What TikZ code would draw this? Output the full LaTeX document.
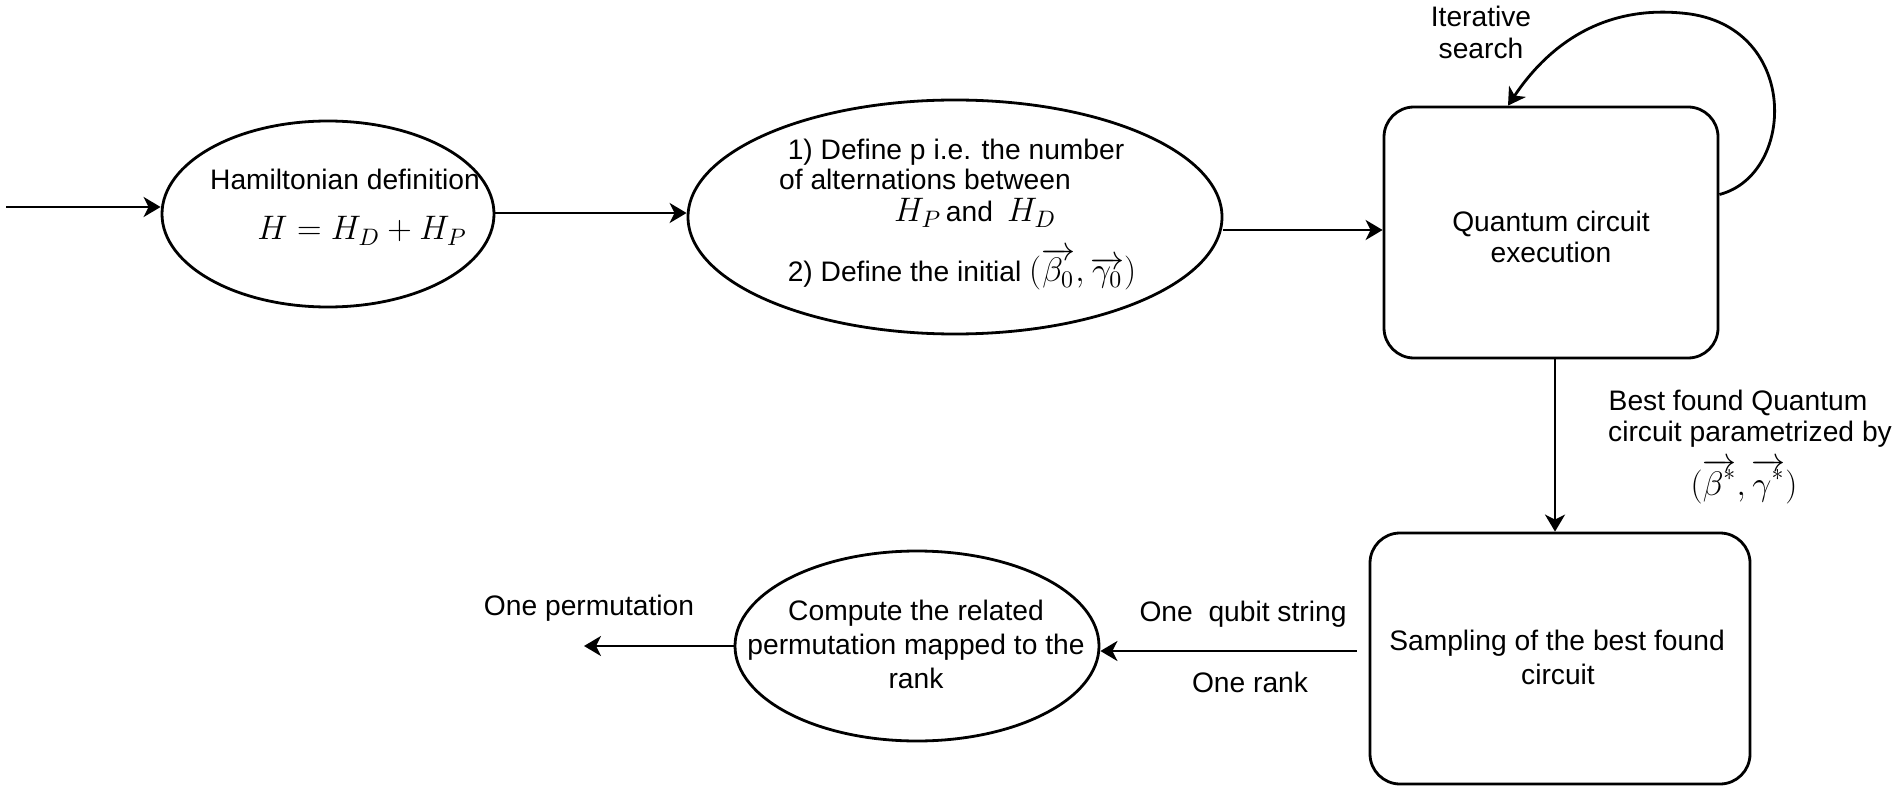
\documentclass[tikz,border=0pt]{standalone}
\usepackage{fix-cm}
\usepackage[no-math]{fontspec}
\setmainfont{Liberation Sans}
\usetikzlibrary{shapes.geometric,arrows.meta}
\newcommand\txtfont{\fontsize{14.1}{16}\selectfont}
\newcommand\mth[1]{{\fontsize{17}{20}\selectfont$#1$}}
\begin{document}
\begin{tikzpicture}[x=0.5pt,y=-0.5pt, line width=1.4pt,
  arr/.style={-{Stealth[length=8.5pt,width=10pt,inset=2.5pt]}},
  ell/.style={draw, ellipse, inner sep=0pt},
  rbox/.style={draw, rectangle, rounded corners=15pt, inner sep=0pt},
  lbl/.style={font=\txtfont, inner sep=0pt, anchor=base, align=center}]
\useasboundingbox (0,0) rectangle (1900,791);

% shapes
\node[ell, minimum width=166pt, minimum height=93pt] (e1) at (328,214) {};
\node[ell, minimum width=267pt, minimum height=117pt] (e2) at (955,217) {};
\node[rbox, minimum width=167pt, minimum height=125.5pt] (b1) at (1551,232.5) {};
\node[rbox, minimum width=190pt, minimum height=125.5pt] (b2) at (1560,658.5) {};
\node[ell, minimum width=182pt, minimum height=95pt] (e3) at (917,646) {};

% texts
\node[lbl] (t1a) at (345,190) {Hamiltonian definition};
\node[lbl] (t1b) at (362,240) {\mth{H = H_D + H_P}};

\node[lbl] (t2a) at (956,160) {1) Define p i.e. the number};
\node[lbl] (t2b) at (925,190) {of alternations between};
\node[lbl] (t2c) at (975,222) {\mth{H_P}\,and\hspace{0.5em}\mth{H_D}};
\node[lbl] (t2d) at (962,282) {2) Define the initial \mth{(\overrightarrow{\beta_0},\overrightarrow{\gamma_0})}};

\node[lbl] (t3a) at (1551,232) {Quantum circuit};
\node[lbl] (t3b) at (1551,263) {execution};

\node[lbl] (it1) at (1481,27) {Iterative};
\node[lbl] (it2) at (1481,59) {search};

\node[lbl] (bf1) at (1738,410) {Best found Quantum};
\node[lbl] (bf2) at (1750,441) {circuit parametrized by};
\node[lbl] (bf3) at (1744,495) {\mth{(\overrightarrow{\beta^*},\overrightarrow{\gamma^*})}};

\node[lbl] (s1) at (1557,650) {Sampling of the best found};
\node[lbl] (s2) at (1558,684) {circuit};

\node[lbl] (q1) at (1243,621) {One\ \ qubit string};
\node[lbl] (q2) at (1250,692) {One rank};

\node[lbl] (c1) at (916,620) {Compute the related};
\node[lbl] (c2) at (916,654) {permutation mapped to the};
\node[lbl] (c3) at (916,688) {rank};

\node[lbl] (op) at (589,615) {One permutation};

% connectors
\coordinate (in0) at (6,207);
\coordinate (out0) at (584,646);
\draw[arr] (in0) -- (in0 -| e1.west);
\draw[arr] ([yshift=0.5pt]e1.east) -- ([yshift=0.5pt]e1.east -| e2.west);
\draw[arr] ([yshift=-6.5pt]e2.east) -- ([yshift=-6.5pt]e2.east -| b1.west);
\draw[arr] ([yshift=19pt]b1.east) .. controls (1795,175) and (1800,30) .. (1690,14)
   .. controls (1600,2) and (1545,50) .. ([xshift=-21.5pt]b1.north);
\draw[arr] ([xshift=2pt]b1.south) -- ([xshift=2pt]b1.south |- b2.north);
\draw[arr] ([xshift=-6pt,yshift=3.75pt]b2.west) -- ([yshift=3.75pt]b2.west -| e3.east);
\draw[arr] (e3.west) -- (out0);
\end{tikzpicture}
\end{document}
